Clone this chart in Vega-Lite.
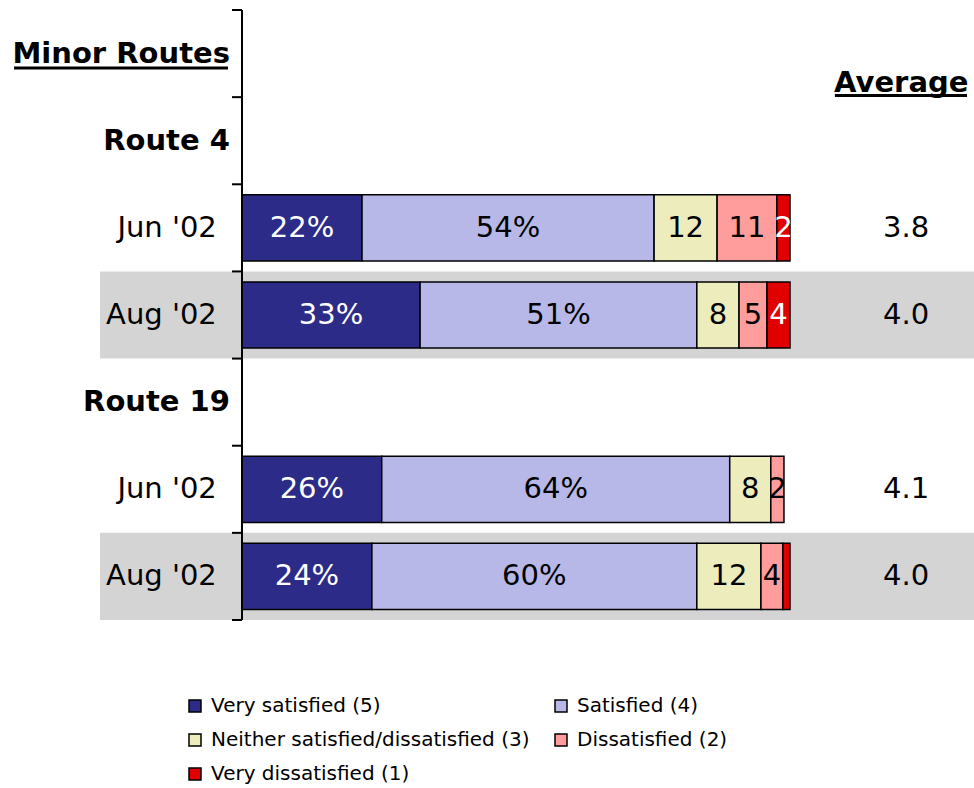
{
  "$schema": "https://vega.github.io/schema/vega-lite/v6.json",
  "width": 732,
  "height": 610,
  "autosize": {"type": "none"},
  "padding": {"left": 242, "top": 10, "right": 0, "bottom": 168},
  "background": "white",
  "config": {"view": {"stroke": null}, "font": "DejaVu Sans"},
  "datasets": {
    "ratings": [
      {"row": "Route 4 Jun '02", "period": "Jun '02", "rating": "Very satisfied (5)", "score": 5, "pct": 21.9, "label": "22%"},
      {"row": "Route 4 Jun '02", "period": "Jun '02", "rating": "Satisfied (4)", "score": 4, "pct": 53.3, "label": "54%"},
      {"row": "Route 4 Jun '02", "period": "Jun '02", "rating": "Neither satisfied/dissatisfied (3)", "score": 3, "pct": 11.5, "label": "12"},
      {"row": "Route 4 Jun '02", "period": "Jun '02", "rating": "Dissatisfied (2)", "score": 2, "pct": 10.9, "label": "11"},
      {"row": "Route 4 Jun '02", "period": "Jun '02", "rating": "Very dissatisfied (1)", "score": 1, "pct": 2.4, "label": "2"},
      {"row": "Route 4 Aug '02", "period": "Aug '02", "rating": "Very satisfied (5)", "score": 5, "pct": 32.5, "label": "33%"},
      {"row": "Route 4 Aug '02", "period": "Aug '02", "rating": "Satisfied (4)", "score": 4, "pct": 50.5, "label": "51%"},
      {"row": "Route 4 Aug '02", "period": "Aug '02", "rating": "Neither satisfied/dissatisfied (3)", "score": 3, "pct": 7.7, "label": "8"},
      {"row": "Route 4 Aug '02", "period": "Aug '02", "rating": "Dissatisfied (2)", "score": 2, "pct": 5.1, "label": "5"},
      {"row": "Route 4 Aug '02", "period": "Aug '02", "rating": "Very dissatisfied (1)", "score": 1, "pct": 4.2, "label": "4"},
      {"row": "Route 19 Jun '02", "period": "Jun '02", "rating": "Very satisfied (5)", "score": 5, "pct": 25.5, "label": "26%"},
      {"row": "Route 19 Jun '02", "period": "Jun '02", "rating": "Satisfied (4)", "score": 4, "pct": 63.5, "label": "64%"},
      {"row": "Route 19 Jun '02", "period": "Jun '02", "rating": "Neither satisfied/dissatisfied (3)", "score": 3, "pct": 7.5, "label": "8"},
      {"row": "Route 19 Jun '02", "period": "Jun '02", "rating": "Dissatisfied (2)", "score": 2, "pct": 2.4, "label": "2"},
      {"row": "Route 19 Aug '02", "period": "Aug '02", "rating": "Very satisfied (5)", "score": 5, "pct": 23.7, "label": "24%"},
      {"row": "Route 19 Aug '02", "period": "Aug '02", "rating": "Satisfied (4)", "score": 4, "pct": 59.3, "label": "60%"},
      {"row": "Route 19 Aug '02", "period": "Aug '02", "rating": "Neither satisfied/dissatisfied (3)", "score": 3, "pct": 11.7, "label": "12"},
      {"row": "Route 19 Aug '02", "period": "Aug '02", "rating": "Dissatisfied (2)", "score": 2, "pct": 4.0, "label": "4"},
      {"row": "Route 19 Aug '02", "period": "Aug '02", "rating": "Very dissatisfied (1)", "score": 1, "pct": 1.3, "label": ""}
    ],
    "averages": [
      {"row": "Route 4 Jun '02", "period": "Jun '02", "avg": "3.8"},
      {"row": "Route 4 Aug '02", "period": "Aug '02", "avg": "4.0"},
      {"row": "Route 19 Jun '02", "period": "Jun '02", "avg": "4.1"},
      {"row": "Route 19 Aug '02", "period": "Aug '02", "avg": "4.0"}
    ],
    "rows": [
      {"row": "Minor Routes", "name": "Minor Routes", "kind": "header"},
      {"row": "Route 4", "name": "Route 4", "kind": "header"},
      {"row": "Route 4 Jun '02", "name": "Jun '02", "kind": "period"},
      {"row": "Route 4 Aug '02", "name": "Aug '02", "kind": "period"},
      {"row": "Route 19", "name": "Route 19", "kind": "header"},
      {"row": "Route 19 Jun '02", "name": "Jun '02", "kind": "period"},
      {"row": "Route 19 Aug '02", "name": "Aug '02", "kind": "period"}
    ]
  },
  "layer": [
    {
      "data": {"name": "averages"},
      "transform": [{"filter": "datum.period == \"Aug '02\""}],
      "mark": {"type": "rect", "color": "#d4d4d4"},
      "encoding": {
        "y": {"field": "row", "type": "nominal", "axis": null, "scale": {"domain": ["Minor Routes", "Route 4", "Route 4 Jun '02", "Route 4 Aug '02", "Route 19", "Route 19 Jun '02", "Route 19 Aug '02"], "paddingInner": 0, "paddingOuter": 0}},
        "x": {"datum": -25.9, "type": "quantitative", "axis": null, "scale": {"domain": [0, 100], "range": [0, 548], "nice": false, "zero": false}},
        "x2": {"datum": 133.6}
      }
    },
    {
      "data": {"name": "ratings"},
      "mark": {"type": "bar", "height": {"band": 0.76}, "stroke": "black", "strokeWidth": 1.5},
      "encoding": {
        "y": {"field": "row", "type": "nominal", "axis": null, "scale": {"domain": ["Minor Routes", "Route 4", "Route 4 Jun '02", "Route 4 Aug '02", "Route 19", "Route 19 Jun '02", "Route 19 Aug '02"], "paddingInner": 0, "paddingOuter": 0}},
        "x": {"field": "pct", "type": "quantitative", "stack": "zero", "scale": {"domain": [0, 100], "range": [0, 548], "nice": false, "zero": false}, "axis": null},
        "color": {
          "field": "rating", "type": "nominal",
          "scale": {"domain": ["Very satisfied (5)", "Neither satisfied/dissatisfied (3)", "Very dissatisfied (1)", "Satisfied (4)", "Dissatisfied (2)"], "range": ["#2c2c88", "#ececbc", "#e00000", "#b8b8e8", "#ff9c9c"]},
          "legend": {
            "orient": "none", "legendX": -57, "legendY": 686,
            "columns": 2, "title": null,
            "symbolType": "square", "symbolSize": 144, "symbolStrokeColor": "black", "symbolStrokeWidth": 1.5,
            "labelFont": "DejaVu Sans", "labelFontSize": 20, "labelColor": "black", "labelLimit": 400,
            "labelOffset": 6, "columnPadding": 21, "rowPadding": 14
          }
        },
        "order": {"field": "score", "type": "quantitative", "sort": "descending"}
      }
    },
    {
      "data": {"name": "ratings"},
      "mark": {"type": "text", "fontSize": 29, "font": "DejaVu Sans", "align": "center", "baseline": "middle"},
      "encoding": {
        "y": {"field": "row", "type": "nominal", "axis": null},
        "x": {"field": "pct", "type": "quantitative", "stack": "zero", "bandPosition": 0.5, "axis": null},
        "detail": {"field": "rating"},
        "order": {"field": "score", "type": "quantitative", "sort": "descending"},
        "text": {"field": "label"},
        "color": {"condition": {"test": "datum.score == 5 || datum.score == 1", "value": "white"}, "value": "black"}
      }
    },
    {
      "data": {"name": "averages"},
      "mark": {"type": "text", "fontSize": 29, "font": "DejaVu Sans", "align": "center", "baseline": "middle", "color": "black"},
      "encoding": {
        "y": {"field": "row", "type": "nominal", "axis": null},
        "x": {"datum": 121.2, "type": "quantitative", "axis": null},
        "text": {"field": "avg"}
      }
    },
    {
      "data": {"name": "rows"},
      "transform": [{"filter": "datum.kind == 'header'"}],
      "mark": {"type": "text", "fontSize": 29, "fontWeight": "bold", "font": "DejaVu Sans", "align": "right", "baseline": "middle", "color": "black"},
      "encoding": {
        "y": {"field": "row", "type": "nominal", "axis": null},
        "x": {"datum": -2.2, "type": "quantitative", "axis": null},
        "text": {"field": "name"}
      }
    },
    {
      "data": {"name": "rows"},
      "transform": [{"filter": "datum.kind == 'period'"}],
      "mark": {"type": "text", "fontSize": 29, "font": "DejaVu Sans", "align": "right", "baseline": "middle", "color": "black"},
      "encoding": {
        "y": {"field": "row", "type": "nominal", "axis": null},
        "x": {"datum": -4.6, "type": "quantitative", "axis": null},
        "text": {"field": "name"}
      }
    },
    {
      "data": {"name": "rows"},
      "mark": {"type": "rule", "color": "black", "strokeWidth": 2, "yOffset": -43.57},
      "encoding": {
        "y": {"field": "row", "type": "nominal", "axis": null},
        "x": {"datum": -1.82, "type": "quantitative", "axis": null},
        "x2": {"datum": 0}
      }
    },
    {
      "data": {"name": "rows"},
      "transform": [{"filter": "datum.row == \"Route 19 Aug '02\""}],
      "mark": {"type": "rule", "color": "black", "strokeWidth": 2, "yOffset": 43.57},
      "encoding": {
        "y": {"field": "row", "type": "nominal", "axis": null},
        "x": {"datum": -1.82, "type": "quantitative", "axis": null},
        "x2": {"datum": 0}
      }
    },
    {
      "data": {"values": [{}]},
      "mark": {"type": "rule", "color": "black", "strokeWidth": 2},
      "encoding": {
        "x": {"datum": 0, "type": "quantitative", "axis": null}
      }
    },
    {
      "data": {"values": [{}]},
      "mark": {"type": "text", "text": "Average", "fontSize": 29, "fontWeight": "bold", "font": "DejaVu Sans", "align": "center", "baseline": "alphabetic", "dy": 38, "color": "black"},
      "encoding": {
        "y": {"datum": "Minor Routes", "type": "nominal", "axis": null},
        "x": {"datum": 120.3, "type": "quantitative", "axis": null}
      }
    },
    {
      "data": {"values": [{}]},
      "mark": {"type": "rule", "color": "black", "strokeWidth": 3, "yOffset": 42},
      "encoding": {
        "y": {"datum": "Minor Routes", "type": "nominal", "axis": null},
        "x": {"datum": 108.2, "type": "quantitative", "axis": null},
        "x2": {"datum": 132.3}
      }
    },
    {
      "data": {"values": [{}]},
      "mark": {"type": "rule", "color": "black", "strokeWidth": 3, "yOffset": 14.5},
      "encoding": {
        "y": {"datum": "Minor Routes", "type": "nominal", "axis": null},
        "x": {"datum": -41.6, "type": "quantitative", "axis": null},
        "x2": {"datum": -2.55}
      }
    }
  ]
}
